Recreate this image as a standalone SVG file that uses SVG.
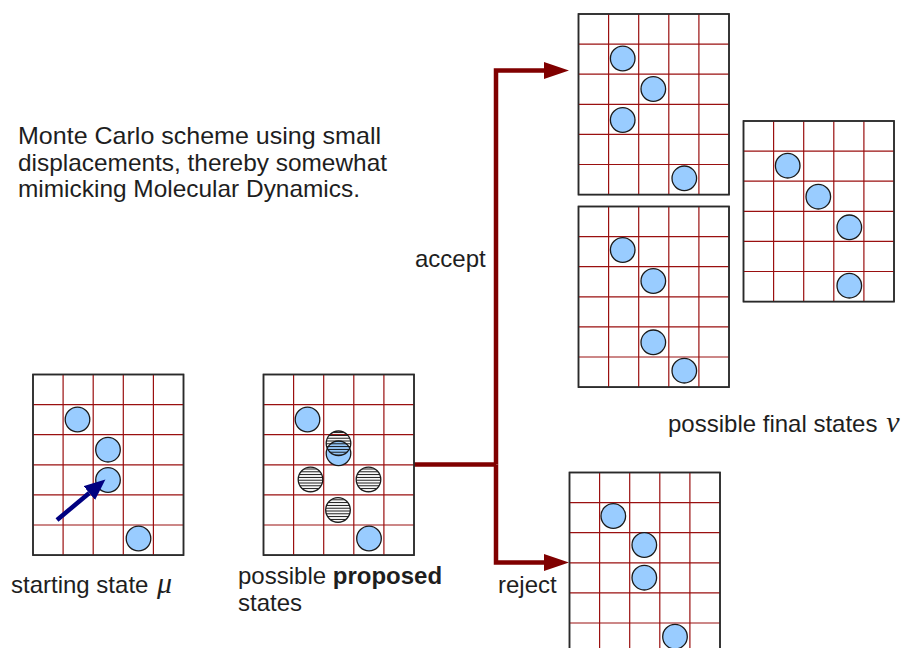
<svg xmlns="http://www.w3.org/2000/svg" xmlns:xlink="http://www.w3.org/1999/xlink" width="902" height="648" viewBox="0 0 902 648">
  <style>
    .lbl { font-family: "Liberation Sans", Arial, sans-serif; font-size: 24px; fill: #1e1e1e; }
    .greek { font-family: "Liberation Serif", "Times New Roman", serif; font-style: italic; font-size: 30px; fill: #1e1e1e; }
    .frame { fill: #ffffff; stroke: #2a2a2a; stroke-width: 1.5; }
    .gl { stroke: #9a1010; stroke-width: 1.2; fill: none; }
    .ball { fill: #99ccff; stroke: #1a1a1a; stroke-width: 1.3; }
    .trial { fill: url(#stripes); stroke: #1a1a1a; stroke-width: 1.3; }
    .flow { fill: none; stroke: #800000; stroke-width: 4.5; stroke-linejoin: miter; }
    .move { fill: none; stroke: #000080; stroke-width: 4.5; }
  </style>
  <defs>
    <!-- 5 x 6 lattice, cell 30.1 px -->
    <g id="board">
      <rect class="frame" x="0" y="0" width="150.5" height="180.6"/>
      <path class="gl" d="M30.1,0V180.6M60.2,0V180.6M90.3,0V180.6M120.4,0V180.6M0,30.1H150.5M0,60.2H150.5M0,90.3H150.5M0,120.4H150.5M0,150.5H150.5"/>
      <rect x="0" y="0" width="150.5" height="180.6" fill="none" stroke="#2a2a2a" stroke-width="1.5"/>
    </g>
    <pattern id="stripes" patternUnits="userSpaceOnUse" width="6" height="2.8">
      <line x1="0" y1="1.4" x2="6" y2="1.4" stroke="#111" stroke-width="1"/>
    </pattern>
    <marker id="redhead" markerUnits="userSpaceOnUse" markerWidth="26" markerHeight="18" refX="0" refY="8.5" orient="auto">
      <path d="M0,0L25,8.5L0,17Z" fill="#800000"/>
    </marker>
    <marker id="bluehead" markerUnits="userSpaceOnUse" markerWidth="24" markerHeight="20" refX="0" refY="9" orient="auto">
      <path d="M0,0L21,9L0,18Z" fill="#000080"/>
    </marker>
  </defs>

  <rect width="902" height="648" fill="#ffffff"/>

  <!-- description -->
  <g id="caption">
    <text class="lbl" x="18" y="144" textLength="363" lengthAdjust="spacingAndGlyphs">Monte Carlo scheme using small</text>
    <text class="lbl" x="18" y="170.5" textLength="369" lengthAdjust="spacingAndGlyphs">displacements, thereby somewhat</text>
    <text class="lbl" x="18" y="197" textLength="342" lengthAdjust="spacingAndGlyphs">mimicking Molecular Dynamics.</text>
  </g>

  <!-- connectors -->
  <g id="connectors">
    <path class="flow" d="M413,464.5H496"/>
    <path class="flow" d="M496,464.5V70.5H544" marker-end="url(#redhead)"/>
    <path class="flow" d="M496,464.5V562.5H544" marker-end="url(#redhead)"/>
  </g>

  <!-- starting state -->
  <g id="start">
    <use xlink:href="#board" href="#board" x="33" y="374.5"/>
    <circle class="ball" cx="77.5" cy="419.5" r="12.3"/>
    <circle class="ball" cx="108" cy="449.7" r="12.3"/>
    <circle class="ball" cx="108" cy="480" r="12.3"/>
    <circle class="ball" cx="138.5" cy="538.5" r="12.3"/>
    <path class="move" d="M57,520L89.3,493" marker-end="url(#bluehead)"/>
    <text class="lbl" x="11" y="593">starting state <tspan class="greek" dx="2">μ</tspan></text>
  </g>

  <!-- proposed states -->
  <g id="proposed">
    <use xlink:href="#board" href="#board" x="263.5" y="374.5"/>
    <circle class="ball" cx="307.5" cy="419.5" r="12.3"/>
    <circle class="ball" cx="338.5" cy="453.3" r="12.3"/>
    <circle class="ball" cx="369" cy="538.5" r="12.3"/>
    <circle class="trial" cx="338.5" cy="443.3" r="12.3"/>
    <circle class="trial" cx="310.5" cy="479.5" r="12.3"/>
    <circle class="trial" cx="368.5" cy="479.5" r="12.3"/>
    <circle class="trial" cx="338" cy="510" r="12.3"/>
    <text class="lbl" x="238" y="584">possible <tspan font-weight="bold">proposed</tspan></text>
    <text class="lbl" x="238" y="610.5">states</text>
  </g>

  <!-- accepted outcome A -->
  <g id="final-a">
    <use xlink:href="#board" href="#board" x="578.5" y="14"/>
    <circle class="ball" cx="622.7" cy="58.5" r="12.3"/>
    <circle class="ball" cx="653.3" cy="89" r="12.3"/>
    <circle class="ball" cx="622.7" cy="120" r="12.3"/>
    <circle class="ball" cx="684.3" cy="178.3" r="12.3"/>
  </g>

  <!-- accepted outcome B -->
  <g id="final-b">
    <use xlink:href="#board" href="#board" x="578.5" y="206.5"/>
    <circle class="ball" cx="622.7" cy="250" r="12.3"/>
    <circle class="ball" cx="653.3" cy="281" r="12.3"/>
    <circle class="ball" cx="653.3" cy="342.3" r="12.3"/>
    <circle class="ball" cx="684.3" cy="370.7" r="12.3"/>
  </g>

  <!-- accepted outcome C -->
  <g id="final-c">
    <use xlink:href="#board" href="#board" x="743.5" y="121"/>
    <circle class="ball" cx="787.7" cy="165.7" r="12.3"/>
    <circle class="ball" cx="818.3" cy="196.7" r="12.3"/>
    <circle class="ball" cx="849.3" cy="227.3" r="12.3"/>
    <circle class="ball" cx="849.3" cy="285.7" r="12.3"/>
  </g>

  <!-- rejected move keeps the old configuration -->
  <g id="unchanged">
    <use xlink:href="#board" href="#board" x="569.5" y="472.5"/>
    <circle class="ball" cx="613.3" cy="516" r="12.3"/>
    <circle class="ball" cx="644.3" cy="545" r="12.3"/>
    <circle class="ball" cx="644.3" cy="577.7" r="12.3"/>
    <circle class="ball" cx="675" cy="636.7" r="12.3"/>
  </g>

  <g id="labels">
    <text class="lbl" x="415" y="266.5">accept</text>
    <text class="lbl" x="498" y="593">reject</text>
    <text class="lbl" x="668" y="432">possible final states <tspan class="greek" dx="2">ν</tspan></text>
  </g>
</svg>
